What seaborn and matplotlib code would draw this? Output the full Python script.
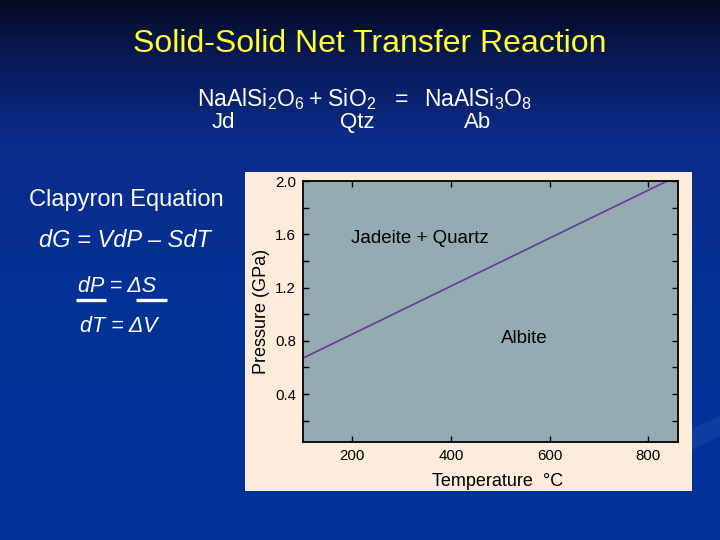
import numpy as np
import matplotlib
matplotlib.use("Agg")
import matplotlib.pyplot as plt
import seaborn as sns
from matplotlib.patches import Rectangle, Polygon
from matplotlib.lines import Line2D
from matplotlib.ticker import MultipleLocator

# ---- data ----
temperature_c = [100, 838]
pressure_gpa = [0.67, 2.0]
x_ticks = [200, 400, 600, 800]
y_ticks = [0.4, 0.8, 1.2, 1.6, 2.0]
y_tick_labels = ["0.4", "0.8", "1.2", "1.6", "2.0"]

title = "Solid-Solid Net Transfer Reaction"
reaction_parts = [r"NaAlSi$_{2}$O$_{6}$", r"+ SiO$_{2}$", "=", r"NaAlSi$_{3}$O$_{8}$"]
abbrevs = ["Jd", "Qtz", "Ab"]
field_labels = ["Jadeite + Quartz", "Albite"]

sns.set_style("ticks")
plt.rcParams["font.family"] = ["Liberation Sans", "DejaVu Sans"]
plt.rcParams["mathtext.fontset"] = "custom"
plt.rcParams["mathtext.rm"] = "Liberation Sans"
plt.rcParams["mathtext.it"] = "Liberation Sans:italic"
plt.rcParams["mathtext.bf"] = "Liberation Sans:bold"

W, H = 720, 540
fig = plt.figure(figsize=(7.2, 5.4), dpi=100)


def fx(x):
    return x / W


def fy(y):
    return 1 - y / H


# ---- slide background gradient ----
bg = fig.add_axes([0, 0, 1, 1], zorder=-10)
ys = np.linspace(0, H, 540)
stops_y = [0, 50, 140, 300, 540]
stops_c = np.array([
    [4, 10, 32],
    [8, 24, 80],
    [10, 44, 138],
    [4, 50, 150],
    [0, 51, 153],
]) / 255.0
grad = np.stack([np.interp(ys, stops_y, stops_c[:, k]) for k in range(3)], axis=1)
img = np.repeat(grad[:, None, :], 10, axis=1)
bg.imshow(img, aspect="auto", extent=[0, 1, 0, 1], origin="upper")
bg.add_patch(Polygon([(fx(600), fy(468)), (fx(720), fy(416)), (fx(720), fy(436)), (fx(620), fy(486))],
                     closed=True, transform=bg.transAxes, facecolor="#2450b0", alpha=0.4, lw=0))
bg.set_xlim(0, 1)
bg.set_ylim(0, 1)
bg.axis("off")

# ---- cream panel behind chart ----
fig.add_artist(Rectangle((fx(245), fy(491)), 447 / W, 319 / H, transform=fig.transFigure,
                         facecolor="#fdecdb", edgecolor="none", zorder=-5))

# ---- chart ----
ax = fig.add_axes([fx(303), fy(442), 375 / W, 261 / H], zorder=1)
ax.set_facecolor("#95abb2")
sns.lineplot(x=temperature_c, y=pressure_gpa, ax=ax, color="#623c94", linewidth=1.2)
ax.set_xlim(100, 860)
ax.set_ylim(0.04, 2.0)
ax.set_xticks(x_ticks)
ax.set_xticklabels([str(t) for t in x_ticks])
ax.set_yticks(y_ticks)
ax.set_yticklabels(y_tick_labels)
ax.yaxis.set_minor_locator(MultipleLocator(0.2))
ax.tick_params(which="both", direction="in", top=True, right=True, length=4, width=1.0,
               color="black", labelsize=10.8, labelcolor="black", pad=5)
ax.tick_params(which="minor", length=4)
for s in ax.spines.values():
    s.set_color("black")
    s.set_linewidth(1.3)
ax.set_xlabel("Temperature  °C", fontsize=13, color="black")
ax.xaxis.set_label_coords(0.519, -0.118)
ax.set_ylabel("Pressure (GPa)", fontsize=13, color="black", labelpad=4)
ax.text(197, 1.535, field_labels[0], fontsize=13.5, color="black", ha="left", va="baseline")
ax.text(501, 0.78, field_labels[1], fontsize=13.5, color="black", ha="left", va="baseline")

# ---- slide texts ----
fig.text(fx(370), fy(51.5), title, fontsize=23, color="#ffff33", ha="center", va="baseline")
for xpos, part in zip([197, 308, 395, 424], reaction_parts):
    fig.text(fx(xpos), fy(106), part, fontsize=16.5, color="white", ha="left", va="baseline")
fig.text(fx(212), fy(128), abbrevs[0], fontsize=16, color="white", ha="left", va="baseline")
fig.text(fx(357.5), fy(128), abbrevs[1], fontsize=16, color="white", ha="center", va="baseline")
fig.text(fx(478), fy(128), abbrevs[2], fontsize=16, color="white", ha="center", va="baseline")

fig.text(fx(126), fy(206), "Clapyron Equation", fontsize=17, color="white", ha="center", va="baseline")
fig.text(fx(125), fy(247), "dG = VdP \u2013 SdT", fontsize=17, color="white", ha="center",
         va="baseline", style="italic")
fig.text(fx(78), fy(292), "dP = \u0394S", fontsize=15.5, color="white", ha="left", va="baseline",
         style="italic")
fig.text(fx(80), fy(332), "dT = \u0394V", fontsize=15.5, color="white", ha="left", va="baseline",
         style="italic")
for x0, x1 in [(76, 106), (136, 167)]:
    fig.add_artist(Line2D([fx(x0), fx(x1)], [fy(300), fy(300)], transform=fig.transFigure,
                          color="white", linewidth=2.4, solid_capstyle="butt"))

fig.savefig("out.png", dpi=100)
